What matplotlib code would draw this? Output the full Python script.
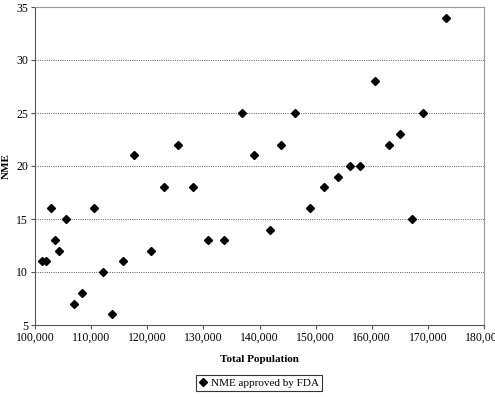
import numpy as np
import matplotlib
matplotlib.use('Agg')
from matplotlib import pyplot as plt

# values
population = [101300, 101950, 102900, 103550, 104350, 105600, 107000, 108300,
              110550, 112100, 113700, 115700, 117700, 120750, 123050, 125550,
              128150, 130900, 133750, 136900, 139050, 141850, 143850, 146400,
              149050, 151550, 153900, 156200, 157900, 160650, 163050, 165050,
              167100, 169150, 173200]
nme = [11, 11, 16, 13, 12, 15, 7, 8,
       16, 10, 6, 11, 21, 12, 18, 22,
       18, 13, 13, 25, 21, 14, 22, 25,
       16, 18, 19, 20, 20, 28, 22, 23,
       15, 25, 34]

xticks = [100000, 110000, 120000, 130000, 140000, 150000, 160000, 170000, 180000]
yticks = [5, 10, 15, 20, 25, 30, 35]

plt.rcParams['font.family'] = ['Liberation Serif', 'DejaVu Serif']

fig = plt.figure(figsize=(4.95, 3.97), dpi=100)
ax = fig.add_axes([35/495, 72/397, 449/495, 318/397])

ax.plot(population, nme, linestyle='none', marker='D', markersize=4.0,
        color='black', label='NME approved by FDA')

ax.set_xlim(100000, 180000)
ax.set_ylim(5, 35)
ax.set_xticks(xticks)
ax.set_xticklabels(['{:,}'.format(t) for t in xticks])
ax.set_yticks(yticks)
ax.tick_params(labelsize=8.5, length=3, width=0.8, color='#555555', pad=2)

for y in yticks[1:-1]:
    ax.axhline(y, color='#444444', linestyle=(0, (1.2, 1.5)), linewidth=0.6, zorder=0)

ax.spines['left'].set_color('#555555')
ax.spines['bottom'].set_color('#555555')
ax.spines['top'].set_color('#999999')
ax.spines['right'].set_color('#999999')

ax.set_xlabel('Total Population', fontsize=8, fontweight='bold', labelpad=8)
ax.set_ylabel('NME', fontsize=8, fontweight='bold', labelpad=4)

leg = fig.legend(loc='center', bbox_to_anchor=(259/495, 14/397), fontsize=8,
                 frameon=True, fancybox=False, edgecolor='black',
                 handlelength=0.8, handletextpad=0.3, borderpad=0.3,
                 markerscale=0.9)
leg.get_frame().set_linewidth(0.8)

fig.savefig('out.png', dpi=100)
